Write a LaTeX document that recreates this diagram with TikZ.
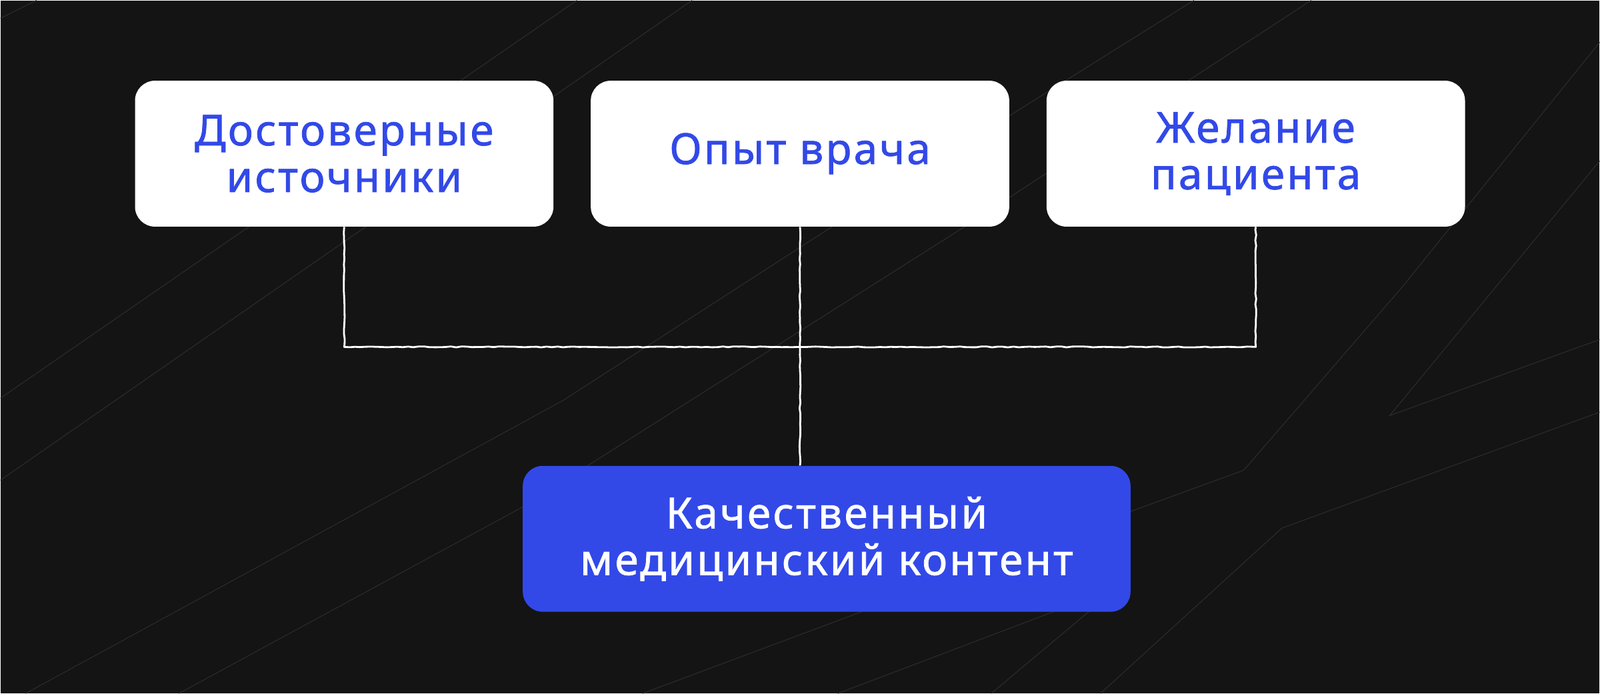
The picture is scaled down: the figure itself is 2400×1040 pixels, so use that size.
\documentclass[tikz,border=0pt]{standalone}
\usepackage{fontspec}
\setmainfont{Noto Sans}[FakeBold=1.2,LetterSpace=5]
\usetikzlibrary{decorations.pathmorphing}
\definecolor{Night}{HTML}{141414}
\definecolor{Streak}{HTML}{2A2A2A}
\definecolor{Royal}{HTML}{3249E8}
\tikzset{
 card/.style={fill=white,text=Royal,rounded corners=15pt,align=center,minimum width=314pt,minimum height=109.5pt,inner sep=0pt,font=\fontsize{32}{35}\selectfont},
 goal/.style={card,fill=Royal,text=white,minimum width=456pt},
 streak/.style={draw=Streak,line width=0.6pt},
 link/.style={draw=white,line width=1.4pt,line join=round,decorate,decoration={random steps,segment length=4pt,amplitude=0.35pt}}
}
\begin{document}
\begin{tikzpicture}[x=0.5pt,y=-0.5pt]
\fill[Night] (0,0) rectangle (2400,1040);
% faint background strokes
\draw[streak] (0,27) -- (54,0);
\draw[streak] (0,597) -- (865,0);
\draw[streak] (0,720) -- (1038,0);
\draw[streak] (38,1040) -- (845,600) -- (1249,339) -- (1791,0);
\draw[streak] (268,1040) -- (784,760) -- (1448,339) -- (1967,0);
\draw[streak] (964,1040) -- (1696,767) -- (1866,705) -- (2103,431) -- (2400,63);
\draw[streak] (1257,1040) -- (1600,910);
\draw[streak] (1487,1040) -- (1660,895);
\draw[streak] (2400,241) -- (2085,623) -- (2400,509);
\draw[streak] (1651,1040) -- (1923,792) -- (2400,618);
% boxes
\node[card] (src1) at (516,230) {Достоверные\\источники};
\node[card] (src2) at (1200,230) {Опыт врача};
\node[card] (src3) at (1884,230) {Желание\\пациента};
\node[goal] (out) at (1240,808) {Качественный\\медицинский контент};
% connectors
\coordinate (hub) at (1200,520);
\draw[link] (src1.south) |- (hub) -| (src3.south);
\draw[link] (src2.south) -- (src2.south |- out.north);
\end{tikzpicture}
\end{document}
